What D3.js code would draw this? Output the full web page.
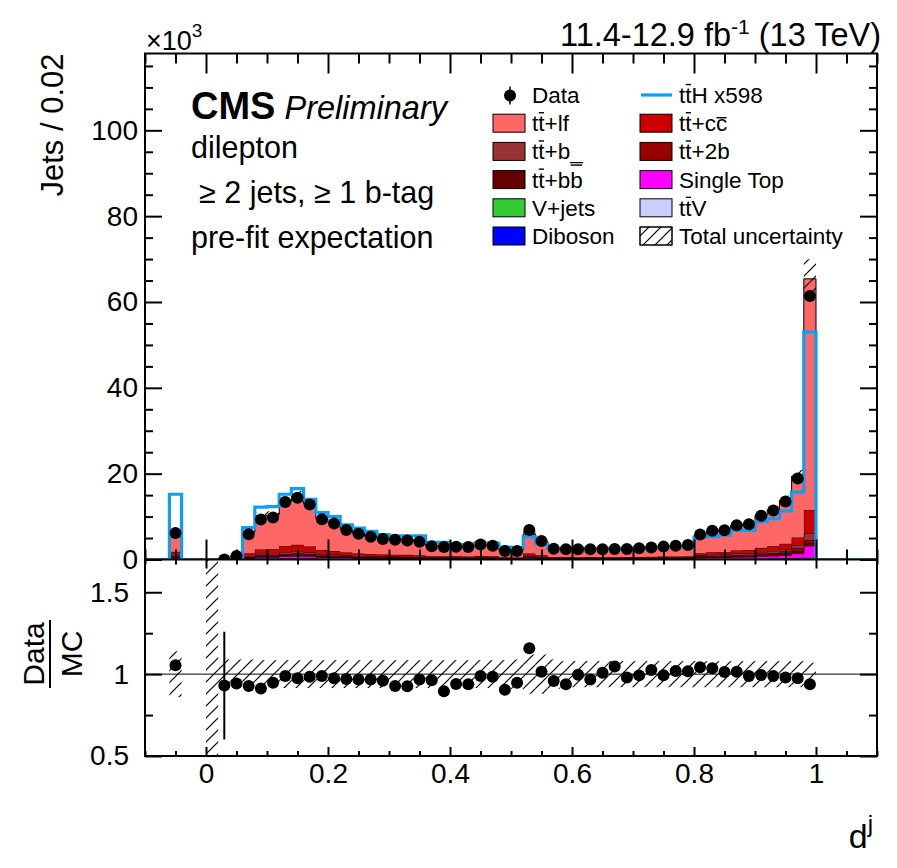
<!DOCTYPE html>
<html><head><meta charset="utf-8">
<script src="https://cdn.jsdelivr.net/npm/d3@7"></script>
<style>
body{margin:0;background:#fff;}
svg text{font-family:"Liberation Sans",Arial,Helvetica,sans-serif;fill:#000;}
</style></head><body>
<svg id="chart" width="897" height="868"></svg>
<script>
// Bin centres of d^j (bin width 0.02); yields in thousands of jets
const binWidth = 0.02;
const binCenters = [-0.05, 0.01, 0.03, 0.05, 0.07, 0.09, 0.11, 0.13, 0.15, 0.17, 0.19, 0.21, 0.23, 0.25, 0.27, 0.29, 0.31, 0.33, 0.35, 0.37, 0.39, 0.41, 0.43, 0.45, 0.47, 0.49, 0.51, 0.53, 0.55, 0.57, 0.59, 0.61, 0.63, 0.65, 0.67, 0.69, 0.71, 0.73, 0.75, 0.77, 0.79, 0.81, 0.83, 0.85, 0.87, 0.89, 0.91, 0.93, 0.95, 0.97, 0.99];

const dataYield = [6.2, 0, 0.008, 0.8, 5.9, 9.3, 9.8, 13.4, 14.4, 12.8, 9.4, 8.4, 6.9, 6.0, 5.3, 4.8, 4.6, 4.4, 4.15, 3.1, 2.9, 2.95, 2.9, 3.5, 3.2, 2.0, 2.0, 6.9, 4.3, 2.5, 2.4, 2.4, 2.4, 2.4, 2.45, 2.45, 2.6, 2.8, 3.0, 3.2, 3.4, 5.8, 6.7, 6.8, 8.0, 8.2, 10.2, 11.4, 13.5, 18.9, 61.4];

const ttlf = [4.07, 0.002, 0.0086, 0.652, 4.89, 7.84, 7.96, 10.43, 11.35, 9.98, 7.31, 6.65, 5.48, 4.78, 4.22, 3.84, 3.83, 3.65, 3.30, 2.48, 2.50, 2.41, 2.37, 2.73, 2.50, 1.70, 1.64, 4.58, 3.26, 2.00, 1.96, 1.87, 1.91, 1.84, 1.80, 1.91, 2.01, 2.10, 2.31, 2.42, 2.56, 4.10, 4.77, 4.94, 5.79, 6.09, 7.55, 8.48, 10.13, 14.25, 53.88];
const ttcc = [0.71, 0, 0, 0.085, 0.64, 1.02, 1.04, 1.36, 1.48, 1.30, 0.95, 0.78, 0.64, 0.56, 0.49, 0.45, 0.45, 0.43, 0.39, 0.29, 0.29, 0.28, 0.28, 0.32, 0.29, 0.20, 0.19, 0.48, 0.34, 0.21, 0.20, 0.19, 0.20, 0.19, 0.19, 0.20, 0.21, 0.22, 0.24, 0.25, 0.27, 0.50, 0.58, 0.60, 0.71, 0.75, 0.92, 1.04, 1.24, 1.75, 5.45];
const ttb = [0.29, 0, 0, 0.030, 0.22, 0.36, 0.36, 0.47, 0.52, 0.46, 0.33, 0.30, 0.25, 0.22, 0.19, 0.18, 0.17, 0.17, 0.15, 0.11, 0.11, 0.11, 0.11, 0.12, 0.11, 0.08, 0.07, 0.21, 0.15, 0.09, 0.09, 0.08, 0.09, 0.08, 0.08, 0.09, 0.09, 0.10, 0.11, 0.11, 0.12, 0.22, 0.26, 0.27, 0.32, 0.33, 0.41, 0.46, 0.55, 0.78, 1.55];
const tt2b = [0.18, 0, 0, 0.017, 0.13, 0.20, 0.21, 0.27, 0.30, 0.26, 0.19, 0.17, 0.14, 0.12, 0.11, 0.10, 0.10, 0.10, 0.09, 0.06, 0.06, 0.06, 0.06, 0.07, 0.07, 0.04, 0.04, 0.12, 0.08, 0.05, 0.05, 0.05, 0.05, 0.05, 0.05, 0.05, 0.05, 0.05, 0.06, 0.06, 0.07, 0.17, 0.19, 0.20, 0.24, 0.25, 0.31, 0.35, 0.41, 0.58, 0.65];
const ttbb = [0.24, 0, 0, 0.021, 0.16, 0.25, 0.26, 0.34, 0.37, 0.33, 0.24, 0.22, 0.18, 0.16, 0.14, 0.13, 0.12, 0.12, 0.11, 0.08, 0.08, 0.08, 0.08, 0.09, 0.08, 0.06, 0.05, 0.18, 0.13, 0.08, 0.08, 0.07, 0.07, 0.07, 0.07, 0.08, 0.08, 0.08, 0.09, 0.09, 0.10, 0.19, 0.23, 0.23, 0.28, 0.29, 0.36, 0.40, 0.48, 0.68, 0.70];
const singleTop = [0.29, 0, 0, 0.030, 0.22, 0.36, 0.36, 0.47, 0.52, 0.46, 0.33, 0.34, 0.28, 0.25, 0.22, 0.20, 0.20, 0.19, 0.17, 0.13, 0.13, 0.13, 0.12, 0.14, 0.13, 0.09, 0.08, 0.27, 0.19, 0.12, 0.12, 0.11, 0.11, 0.11, 0.11, 0.11, 0.12, 0.12, 0.14, 0.14, 0.15, 0.28, 0.32, 0.34, 0.39, 0.42, 0.51, 0.58, 0.69, 0.97, 2.60];
const ttV = [0.03, 0, 0, 0.003, 0.03, 0.04, 0.04, 0.05, 0.06, 0.05, 0.04, 0.04, 0.04, 0.03, 0.03, 0.03, 0.02, 0.02, 0.02, 0.02, 0.02, 0.02, 0.02, 0.02, 0.02, 0.01, 0.01, 0.04, 0.03, 0.02, 0.02, 0.01, 0.01, 0.01, 0.01, 0.02, 0.02, 0.02, 0.02, 0.02, 0.02, 0.04, 0.05, 0.05, 0.06, 0.07, 0.08, 0.09, 0.11, 0.16, 0.30];
const vJets = [0.06, 0, 0, 0.008, 0.06, 0.10, 0.10, 0.14, 0.15, 0.13, 0.10, 0.10, 0.09, 0.07, 0.07, 0.06, 0.06, 0.06, 0.05, 0.04, 0.04, 0.04, 0.04, 0.04, 0.04, 0.03, 0.03, 0.07, 0.05, 0.03, 0.03, 0.03, 0.03, 0.03, 0.03, 0.03, 0.03, 0.03, 0.04, 0.04, 0.04, 0.06, 0.06, 0.07, 0.08, 0.08, 0.10, 0.12, 0.14, 0.19, 0.25];
const diboson = [0.01, 0, 0, 0.002, 0.01, 0.02, 0.02, 0.03, 0.03, 0.03, 0.02, 0.02, 0.01, 0.01, 0.01, 0.01, 0.01, 0.01, 0.01, 0.01, 0.01, 0.01, 0.01, 0.01, 0.01, 0.00, 0.00, 0.01, 0.01, 0.01, 0.01, 0.00, 0.01, 0.00, 0.00, 0.01, 0.01, 0.01, 0.01, 0.01, 0.01, 0.01, 0.01, 0.01, 0.02, 0.02, 0.02, 0.02, 0.03, 0.04, 0.02];

// ttH signal scaled by 598
const ttHScaled = [15.2, 0, 0.05, 0.3, 7.45, 12.2, 12.3, 15.2, 16.5, 14.0, 10.9, 10.0, 8.1, 7.3, 6.55, 5.8, 5.5, 5.5, 5.5, 4.0, 4.0, 3.5, 3.5, 3.8, 3.8, 2.9, 2.8, 5.3, 3.7, 2.6, 2.6, 2.6, 2.6, 2.6, 2.6, 2.6, 2.7, 2.8, 2.9, 3.0, 3.0, 5.2, 5.4, 5.65, 6.8, 6.8, 8.8, 9.5, 11.3, 15.7, 53.0];

// relative total uncertainty on the expectation
const mcRelUnc = [0.14, 1.5, 0.09, 0.09, 0.09, 0.085, 0.085, 0.085, 0.085, 0.085, 0.085, 0.085, 0.085, 0.085, 0.085, 0.085, 0.085, 0.085, 0.085, 0.085, 0.085, 0.085, 0.085, 0.085, 0.085, 0.085, 0.09, 0.12, 0.12, 0.09, 0.08, 0.08, 0.08, 0.08, 0.08, 0.08, 0.08, 0.08, 0.08, 0.08, 0.08, 0.08, 0.08, 0.08, 0.08, 0.08, 0.08, 0.08, 0.08, 0.08, 0.07];

// stacking order, bottom to top
const stackKeys = ["diboson", "vJets", "ttV", "singleTop", "ttbb", "tt2b", "ttb", "ttcc", "ttlf"];
const stackSeries = {diboson, vJets, ttV, singleTop, ttbb, tt2b, ttb, ttcc, ttlf};
const stackColors = {diboson: "#0000ff", vJets: "#33cc33", ttV: "#ccccff", singleTop: "#ff00ff", ttbb: "#660000", tt2b: "#990000", ttb: "#993333", ttcc: "#cc0000", ttlf: "#ff6666"};

const xTicks = [0, 0.2, 0.4, 0.6, 0.8, 1];
const xTickLabels = ["0", "0.2", "0.4", "0.6", "0.8", "1"];
const yTicks = [0, 20, 40, 60, 80, 100];
const yTickLabels = ["0", "20", "40", "60", "80", "100"];
const ratioTicks = [0.5, 1, 1.5];
const ratioTickLabels = ["0.5", "1", "1.5"];

// legend entries: braces mark an overlined letter
const legendEntries = [
  {label: "Data", kind: "data", col: 0, row: 0},
  {label: "t{t}H x598", kind: "line", col: 1, row: 0},
  {label: "t{t}+lf", kind: "box", key: "ttlf", col: 0, row: 1},
  {label: "t{t}+c{c}", kind: "box", key: "ttcc", col: 1, row: 1},
  {label: "t{t}+b_", kind: "box", key: "ttb", col: 0, row: 2},
  {label: "t{t}+2b", kind: "box", key: "tt2b", col: 1, row: 2},
  {label: "t{t}+b{b}", kind: "box", key: "ttbb", col: 0, row: 3},
  {label: "Single Top", kind: "box", key: "singleTop", col: 1, row: 3},
  {label: "V+jets", kind: "box", key: "vJets", col: 0, row: 4},
  {label: "t{t}V", kind: "box", key: "ttV", col: 1, row: 4},
  {label: "Diboson", kind: "box", key: "diboson", col: 0, row: 5},
  {label: "Total uncertainty", kind: "hatch", col: 1, row: 5}
];

const signalColor = "#0aa0f5";

// ---------- layout ----------
const svg = d3.select("#chart");
const F = {left: 145, right: 877, top: 53.5, mid: 559.5, bottom: 756};
const x = d3.scaleLinear().domain([-0.1, 1.1]).range([F.left, F.right]);
const y = d3.scaleLinear().domain([0, 117.9]).range([F.mid, F.top]);
const yr = d3.scaleLinear().domain([0.5, 1.7]).range([F.bottom, F.mid]);

const defs = svg.append("defs");
const hatch = defs.append("pattern").attr("id", "hatch").attr("patternUnits", "userSpaceOnUse")
  .attr("width", 12).attr("height", 12);
hatch.append("path").attr("d", "M0,12 L12,0 M-3,3 L3,-3 M9,15 L15,9")
  .attr("stroke", "#000").attr("stroke-width", 1.2);
defs.append("clipPath").attr("id", "clipMain").append("rect")
  .attr("x", F.left).attr("y", F.top).attr("width", F.right - F.left).attr("height", F.mid - F.top);
defs.append("clipPath").attr("id", "clipRatio").append("rect")
  .attr("x", F.left).attr("y", F.mid).attr("width", F.right - F.left).attr("height", F.bottom - F.mid);

// ---------- helpers ----------
const n = binCenters.length;
const lo = i => binCenters[i] - binWidth / 2;
const hi = i => binCenters[i] + binWidth / 2;
// group bins into contiguous runs
const runs = [];
for (let i = 0; i < n; i++) {
  if (i > 0 && Math.abs(lo(i) - hi(i - 1)) < 1e-6) runs[runs.length - 1].push(i);
  else runs.push([i]);
}
const mcTotal = binCenters.map((_, i) => stackKeys.reduce((s, k) => s + stackSeries[k][i], 0));

// ---------- main pad ----------
const gMain = svg.append("g").attr("clip-path", "url(#clipMain)");

const rows = binCenters.map((c, i) => {
  const r = {c};
  stackKeys.forEach(k => r[k] = stackSeries[k][i]);
  return r;
});
const layers = d3.stack().keys(stackKeys)(rows);

const area = d3.area().x(p => x(p[0])).y0(p => y(p[1])).y1(p => y(p[2]));
const line = d3.line().x(p => x(p[0])).y(p => y(p[1]));

layers.forEach(layer => {
  const key = layer.key;
  runs.forEach(run => {
    const pts = [];
    run.forEach(i => {
      pts.push([lo(i), layer[i][0], layer[i][1]]);
      pts.push([hi(i), layer[i][0], layer[i][1]]);
    });
    gMain.append("path").attr("d", area(pts)).attr("fill", stackColors[key]).attr("stroke", "none");
    const outline = [[lo(run[0]), layer[run[0]][0]]]
      .concat(pts.map(p => [p[0], p[2]]))
      .concat([[hi(run[run.length - 1]), layer[run[run.length - 1]][0]]]);
    gMain.append("path").attr("d", line(outline)).attr("fill", "none")
      .attr("stroke", "#000").attr("stroke-width", 1);
  });
});

// total uncertainty on the expectation
gMain.selectAll("rect.unc").data(d3.range(n).filter(i => mcTotal[i] > 0.01)).enter()
  .append("rect").attr("class", "unc")
  .attr("x", i => x(lo(i))).attr("width", i => x(hi(i)) - x(lo(i)))
  .attr("y", i => y(mcTotal[i] * (1 + mcRelUnc[i])))
  .attr("height", i => y(mcTotal[i] * (1 - mcRelUnc[i])) - y(mcTotal[i] * (1 + mcRelUnc[i])))
  .attr("fill", "url(#hatch)");

// scaled ttH signal as a step outline over the full range
const sigPts = [[-0.1, 0]];
runs.forEach(run => {
  sigPts.push([lo(run[0]), 0]);
  run.forEach(i => { sigPts.push([lo(i), ttHScaled[i]]); sigPts.push([hi(i), ttHScaled[i]]); });
  sigPts.push([hi(run[run.length - 1]), 0]);
});
sigPts.push([1.1, 0]);
gMain.append("path").attr("d", line(sigPts)).attr("fill", "none")
  .attr("stroke", signalColor).attr("stroke-width", 3.2).attr("stroke-linejoin", "miter");

// data points
const dataIdx = d3.range(n).filter(i => dataYield[i] > 0);
const statErr = i => Math.sqrt(dataYield[i] * 1000) / 1000;
gMain.selectAll("line.err").data(dataIdx).enter().append("line")
  .attr("x1", i => x(binCenters[i])).attr("x2", i => x(binCenters[i]))
  .attr("y1", i => y(dataYield[i] + statErr(i))).attr("y2", i => y(Math.max(0, dataYield[i] - statErr(i))))
  .attr("stroke", "#000").attr("stroke-width", 1.5);
gMain.selectAll("circle.pt").data(dataIdx).enter().append("circle")
  .attr("cx", i => x(binCenters[i])).attr("cy", i => y(dataYield[i])).attr("r", 6).attr("fill", "#000");

// ---------- ratio pad ----------
const gRatio = svg.append("g").attr("clip-path", "url(#clipRatio)");
gRatio.selectAll("rect.runc").data(d3.range(n).filter(i => mcTotal[i] > 0)).enter()
  .append("rect")
  .attr("x", i => x(lo(i))).attr("width", i => x(hi(i)) - x(lo(i)))
  .attr("y", i => yr(1 + mcRelUnc[i])).attr("height", i => yr(1 - mcRelUnc[i]) - yr(1 + mcRelUnc[i]))
  .attr("fill", "url(#hatch)");
gRatio.append("line").attr("x1", F.left).attr("x2", F.right).attr("y1", yr(1)).attr("y2", yr(1))
  .attr("stroke", "#000").attr("stroke-width", 1);
const ratio = i => dataYield[i] / mcTotal[i];
const ratioErr = i => statErr(i) / mcTotal[i];
gRatio.selectAll("line.rerr").data(dataIdx).enter().append("line")
  .attr("x1", i => x(binCenters[i])).attr("x2", i => x(binCenters[i]))
  .attr("y1", i => yr(ratio(i) + ratioErr(i))).attr("y2", i => yr(ratio(i) - ratioErr(i)))
  .attr("stroke", "#000").attr("stroke-width", 2);
gRatio.selectAll("circle.rpt").data(dataIdx).enter().append("circle")
  .attr("cx", i => x(binCenters[i])).attr("cy", i => yr(ratio(i))).attr("r", 6).attr("fill", "#000");

// ---------- axes and frames ----------
function ticks(axis, tr, vals, size, labels, pad, fontSize) {
  const g = svg.append("g").attr("transform", tr)
    .call(axis.tickValues(vals).tickSize(size).tickPadding(pad || 0)
      .tickFormat(labels ? ((d, i) => labels[i]) : () => ""));
  g.select(".domain").remove();
  g.selectAll(".tick line").attr("stroke", "#000").attr("stroke-width", 2);
  g.selectAll(".tick text").attr("font-size", fontSize || 28).attr("fill", "#000")
    .style("font-family", '"Liberation Sans",Arial,Helvetica,sans-serif');
  return g;
}
const isMajor = (v, majors) => majors.some(m => Math.abs(m - v) < 1e-6);
const xMinor = d3.range(-0.1, 1.1001, 0.05).map(v => +v.toFixed(2)).filter(v => !isMajor(v, xTicks));
const yMinor = d3.range(0, 118, 5).filter(v => !isMajor(v, yTicks));
const rMinor = [0.75, 1.25];

// main pad
ticks(d3.axisLeft(y), `translate(${F.left},0)`, yTicks, -17, yTickLabels, 7, 28);
ticks(d3.axisLeft(y), `translate(${F.left},0)`, yMinor, -8);
ticks(d3.axisRight(y), `translate(${F.right},0)`, yTicks, -17);
ticks(d3.axisRight(y), `translate(${F.right},0)`, yMinor, -8);
ticks(d3.axisTop(x), `translate(0,${F.top})`, xTicks, -20);
ticks(d3.axisTop(x), `translate(0,${F.top})`, xMinor, -10);
ticks(d3.axisBottom(x), `translate(0,${F.mid})`, xTicks, -20);
ticks(d3.axisBottom(x), `translate(0,${F.mid})`, xMinor, -10);
// ratio pad
ticks(d3.axisLeft(yr), `translate(${F.left},0)`, ratioTicks, -17, ratioTickLabels, 16, 28);
ticks(d3.axisLeft(yr), `translate(${F.left},0)`, rMinor, -8);
ticks(d3.axisRight(yr), `translate(${F.right},0)`, ratioTicks, -17);
ticks(d3.axisRight(yr), `translate(${F.right},0)`, rMinor, -8);
ticks(d3.axisBottom(x), `translate(0,${F.bottom})`, xTicks, -9, xTickLabels, 7, 28);
ticks(d3.axisBottom(x), `translate(0,${F.bottom})`, xMinor, -5);
ticks(d3.axisTop(x), `translate(0,${F.mid})`, xTicks, -9);
ticks(d3.axisTop(x), `translate(0,${F.mid})`, xMinor, -5);

svg.append("rect").attr("x", F.left).attr("y", F.top).attr("width", F.right - F.left)
  .attr("height", F.bottom - F.top).attr("fill", "none").attr("stroke", "#000").attr("stroke-width", 2);
svg.append("line").attr("x1", F.left).attr("x2", F.right).attr("y1", F.mid).attr("y2", F.mid)
  .attr("stroke", "#000").attr("stroke-width", 2);

// ---------- text ----------
// "{c}" draws c with a bar above it
const barHeight = {t: 0.82, b: 1.0, c: 0.6};
function richText(g, xPos, yPos, fs, str) {
  let plain = "";
  const bars = [];
  str.split(/(\{[^}]*\})/).filter(s => s.length).forEach(p => {
    if (p[0] === "{") { const ch = p.slice(1, -1); bars.push({idx: plain.length, ch}); plain += ch; }
    else plain += p;
  });
  const t = g.append("text").attr("x", xPos).attr("y", yPos).attr("font-size", fs).text(plain);
  bars.forEach(b => {
    const ext = t.node().getExtentOfChar(b.idx);
    const yb = yPos - (barHeight[b.ch] || 0.8) * fs;
    g.append("line").attr("x1", ext.x + 0.5).attr("x2", ext.x + ext.width - 0.5)
      .attr("y1", yb).attr("y2", yb).attr("stroke", "#000").attr("stroke-width", 1.4);
  });
  return t;
}

const xp = svg.append("text").attr("x", 146).attr("y", 50).attr("font-size", 27);
xp.append("tspan").text("×10");
xp.append("tspan").attr("dy", -13).attr("font-size", 19).text("3");

const lumi = svg.append("text").attr("x", 881).attr("y", 46).attr("text-anchor", "end").attr("font-size", 32.5);
lumi.append("tspan").text("11.4-12.9 fb");
lumi.append("tspan").attr("dy", -12).attr("font-size", 21).text("-1");
lumi.append("tspan").attr("dy", 12).text(" (13 TeV)");

svg.append("text").attr("transform", "translate(63,53.5) rotate(-90)").attr("text-anchor", "end")
  .attr("font-size", 31).text("Jets / 0.02");

const cms = svg.append("text").attr("x", 191).attr("y", 119);
cms.append("tspan").attr("font-weight", "bold").attr("font-size", 38).text("CMS");
cms.append("tspan").attr("font-style", "italic").attr("font-size", 32.5).attr("dx", 9).text("Preliminary");
svg.append("text").attr("x", 191).attr("y", 158).attr("font-size", 30.5).text("dilepton");
svg.append("text").attr("x", 199).attr("y", 203).attr("font-size", 30.5).text("≥ 2 jets, ≥ 1 b-tag");
svg.append("text").attr("x", 191).attr("y", 248).attr("font-size", 30.5).text("pre-fit expectation");

// ratio axis title: Data / MC as a fraction
const rt = svg.append("g").attr("transform", "translate(50,654) rotate(-90)");
rt.append("text").attr("x", 0).attr("y", -6).attr("text-anchor", "middle").attr("font-size", 30).text("Data");
rt.append("text").attr("x", 0).attr("y", 32).attr("text-anchor", "middle").attr("font-size", 30).text("MC");
rt.append("line").attr("x1", -34).attr("x2", 34).attr("y1", 0).attr("y2", 0).attr("stroke", "#000").attr("stroke-width", 2);

// x axis title
const xt = svg.append("text").attr("x", 873).attr("y", 848).attr("text-anchor", "end").attr("font-size", 34);
xt.append("tspan").text("d");
xt.append("tspan").attr("dy", -16).attr("font-size", 24).text("j");

// ---------- legend ----------
const legCol = [493, 640], legRow0 = 95, legDy = 28.2;
const gLeg = svg.append("g");
legendEntries.forEach(e => {
  const bx = legCol[e.col], cy = legRow0 + e.row * legDy;
  if (e.kind === "box") {
    gLeg.append("rect").attr("x", bx).attr("y", cy - 9).attr("width", 32).attr("height", 18)
      .attr("fill", stackColors[e.key]).attr("stroke", "#000").attr("stroke-width", 1);
  } else if (e.kind === "hatch") {
    gLeg.append("rect").attr("x", bx).attr("y", cy - 9).attr("width", 32).attr("height", 18)
      .attr("fill", "#fff").attr("stroke", "#000").attr("stroke-width", 1);
    gLeg.append("rect").attr("x", bx).attr("y", cy - 9).attr("width", 32).attr("height", 18)
      .attr("fill", "url(#hatch)").attr("stroke", "#000").attr("stroke-width", 1);
  } else if (e.kind === "line") {
    gLeg.append("line").attr("x1", bx + 1).attr("x2", bx + 32).attr("y1", cy).attr("y2", cy)
      .attr("stroke", signalColor).attr("stroke-width", 3.2);
  } else {
    gLeg.append("line").attr("x1", bx + 17).attr("x2", bx + 17).attr("y1", cy - 8.5).attr("y2", cy + 9.5)
      .attr("stroke", "#000").attr("stroke-width", 1.5);
    gLeg.append("circle").attr("cx", bx + 17).attr("cy", cy + 0.5).attr("r", 6).attr("fill", "#000");
  }
  richText(gLeg, bx + 39, cy + 8, 22.5, e.label);
});
</script>
</body></html>
